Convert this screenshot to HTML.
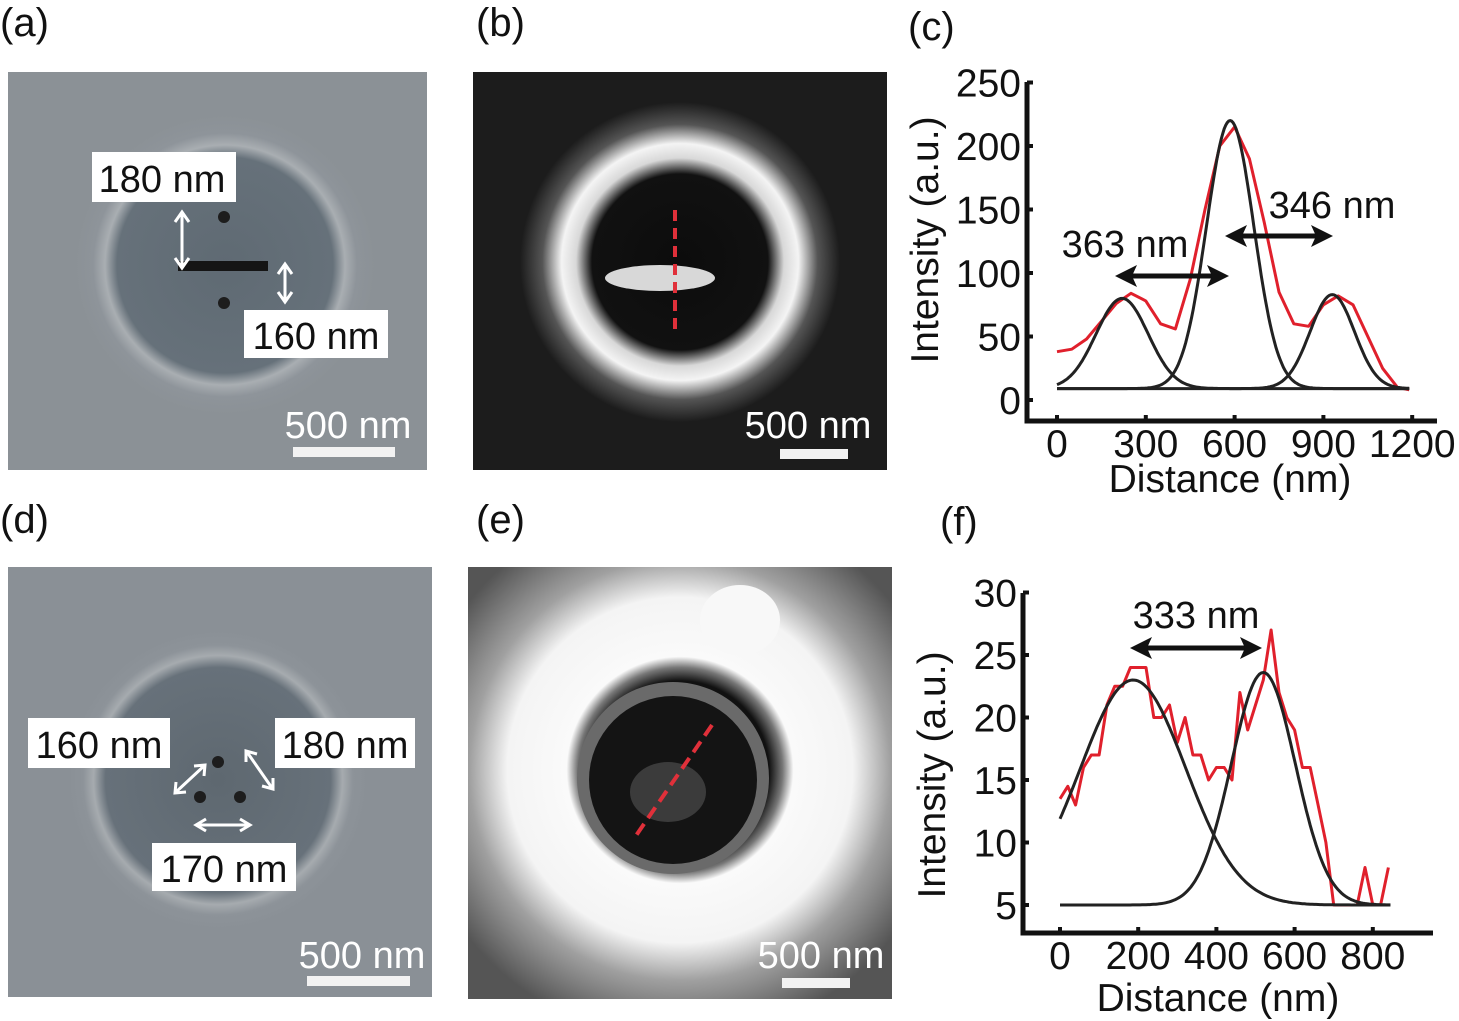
<!DOCTYPE html>
<html><head><meta charset="utf-8"><style>
html,body{margin:0;padding:0;background:#fff}
svg{display:block;font-family:"Liberation Sans",sans-serif}
</style></head><body>
<svg width="1459" height="1021" viewBox="0 0 1459 1021" xmlns="http://www.w3.org/2000/svg">
<defs>
<radialGradient id="gA" cx="225" cy="265" r="150" gradientUnits="userSpaceOnUse">
<stop offset="0" stop-color="#5f6a73"/><stop offset="0.72" stop-color="#66717a"/><stop offset="0.8" stop-color="#a9aeb2"/><stop offset="0.88" stop-color="#8e949a"/><stop offset="1" stop-color="#8b9196"/></radialGradient>
<radialGradient id="gD" cx="218" cy="780" r="150" gradientUnits="userSpaceOnUse">
<stop offset="0" stop-color="#5e6870"/><stop offset="0.75" stop-color="#67717a"/><stop offset="0.83" stop-color="#a6abaf"/><stop offset="0.9" stop-color="#8d9399"/><stop offset="1" stop-color="#8a9096"/></radialGradient>
<radialGradient id="gB" cx="680" cy="262" r="160" gradientUnits="userSpaceOnUse">
<stop offset="0" stop-color="#0c0c0c"/><stop offset="0.55" stop-color="#111"/><stop offset="0.65" stop-color="#d8d8d8"/><stop offset="0.74" stop-color="#f4f4f4"/><stop offset="0.86" stop-color="#555"/><stop offset="1" stop-color="#1c1c1c"/></radialGradient>
<radialGradient id="gE" cx="680" cy="770" r="270" gradientUnits="userSpaceOnUse">
<stop offset="0" stop-color="#111"/><stop offset="0.33" stop-color="#111"/><stop offset="0.38" stop-color="#777"/><stop offset="0.42" stop-color="#fafafa"/><stop offset="0.64" stop-color="#f4f4f4"/><stop offset="0.78" stop-color="#a0a0a0"/><stop offset="1" stop-color="#555"/></radialGradient>
</defs>

<g font-size="40" fill="#111">
<text x="0" y="36">(a)</text>
<text x="476" y="36">(b)</text>
<text x="908" y="40">(c)</text>
<text x="0" y="533">(d)</text>
<text x="476" y="533">(e)</text>
<text x="940" y="535">(f)</text>
</g>

<g>
<rect x="8" y="72" width="419" height="398" fill="url(#gA)"/>
<rect x="178" y="261" width="90" height="10" fill="#151515"/>
<circle cx="224" cy="217" r="6" fill="#1d1d1d"/><circle cx="224" cy="303" r="6" fill="#1d1d1d"/>
<path d="M182 214 V266 M175 222 L182 212 L189 222 M175 258 L182 268 L189 258" stroke="#fff" stroke-width="3" fill="none"/>
<path d="M285 266 V300 M278 274 L285 264 L292 274 M278 292 L285 302 L292 292" stroke="#fff" stroke-width="3" fill="none"/>
<rect x="92" y="152" width="144" height="50" fill="#fff"/>
<text x="162" y="192" font-size="38" text-anchor="middle" fill="#111">180 nm</text>
<rect x="244" y="310" width="144" height="48" fill="#fff"/>
<text x="316" y="349" font-size="38" text-anchor="middle" fill="#111">160 nm</text>
<text x="348" y="438" font-size="38" text-anchor="middle" fill="#fff">500 nm</text>
<rect x="293" y="447" width="102" height="10" fill="#f2f2f2"/>
</g>

<g>
<rect x="473" y="72" width="414" height="398" fill="url(#gB)"/>
<ellipse cx="660" cy="278" rx="55" ry="13" fill="#eee" opacity="0.9"/>
<line x1="675" y1="210" x2="675" y2="330" stroke="#e0303a" stroke-width="4" stroke-dasharray="11,7"/>
<text x="808" y="438" font-size="38" text-anchor="middle" fill="#fff">500 nm</text>
<rect x="780" y="449" width="68" height="10" fill="#f2f2f2"/>
</g>

<g>
<rect x="8" y="567" width="424" height="430" fill="url(#gD)"/>
<circle cx="218" cy="762" r="6" fill="#1d1d1d"/><circle cx="200" cy="797" r="6" fill="#1d1d1d"/><circle cx="240" cy="797" r="6" fill="#1d1d1d"/>
<path d="M176 792 L204 766 M176 782 L175 793 L186 792 M194 766 L205 765 L204 776" stroke="#fff" stroke-width="3" fill="none"/>
<path d="M247 752 L272 788 M246 762 L246 751 L257 754 M262 786 L273 789 L273 778" stroke="#fff" stroke-width="3" fill="none"/>
<path d="M198 825 H248 M206 819 L196 825 L206 831 M240 819 L250 825 L240 831" stroke="#fff" stroke-width="3" fill="none"/>
<rect x="28" y="718" width="142" height="50" fill="#fff"/>
<text x="99" y="758" font-size="38" text-anchor="middle" fill="#111">160 nm</text>
<rect x="275" y="718" width="140" height="50" fill="#fff"/>
<text x="345" y="758" font-size="38" text-anchor="middle" fill="#111">180 nm</text>
<rect x="152" y="843" width="144" height="48" fill="#fff"/>
<text x="224" y="882" font-size="38" text-anchor="middle" fill="#111">170 nm</text>
<text x="362" y="968" font-size="38" text-anchor="middle" fill="#fff">500 nm</text>
<rect x="307" y="976" width="103" height="10" fill="#f2f2f2"/>
</g>

<g>
<rect x="468" y="567" width="424" height="432" fill="url(#gE)"/>
<ellipse cx="740" cy="620" rx="40" ry="35" fill="#f8f8f8"/>
<circle cx="673" cy="778" r="96" fill="#6a6a6a"/>
<circle cx="673" cy="780" r="84" fill="#141414"/>
<ellipse cx="668" cy="792" rx="38" ry="30" fill="#555" opacity="0.6"/>
<line x1="712" y1="725" x2="633" y2="840" stroke="#e0303a" stroke-width="4" stroke-dasharray="13,7"/>
<text x="821" y="968" font-size="38" text-anchor="middle" fill="#fff">500 nm</text>
<rect x="782" y="978" width="68" height="10" fill="#f2f2f2"/>
</g>

<g id="chartC"></g>
<g id="chartF"></g>
</svg>
<script>
const NS='http://www.w3.org/2000/svg';
// ---- chart (c) data ----
const cXTicks=[0,300,600,900,1200];
const cYTicks=[0,50,100,150,200,250];
const cRawX=[0,50,100,150,200,250,300,350,400,450,500,550,600,650,700,750,800,850,900,950,1000,1050,1100,1150,1190];
const cRawY=[38,40,48,62,76,84,78,60,56,95,150,200,215,190,140,85,60,58,75,82,75,50,25,10,8];
const cPeakCenters=[220,585,930];
const cPeakHeights=[71,211,74];
const cPeakSigmas=[88,80,75];
const cBase=[9];
// ---- chart (f) data ----
const fXTicks=[0,200,400,600,800];
const fYTicks=[5,10,15,20,25,30];
const fRawX=[0,20,40,60,80,100,120,140,160,180,200,220,240,260,280,300,320,340,360,380,400,420,440,460,480,500,520,540,560,580,600,620,640,660,680,700,720,740,760,780,800,820,840];
const fRawY=[13.5,14.5,13,16,17,17,21,22.5,22.5,24,24,24,20,20,21,18,20,17,17,15,16,16,15,22,19,21,23,27,22,20,19,16,16,13,10,5,5,5,5,8,5,5,8];
const fPeakCenters=[187,520];
const fPeakHeights=[18,18.6];
const fPeakSigmas=[135,82];
const fBase=[5];

function el(tag,attrs,parent){const e=document.createElementNS(NS,tag);for(const k in attrs)e.setAttribute(k,attrs[k]);parent.appendChild(e);return e;}

function drawChart(g,o){
  const sx=v=>o.x0+(v-o.xmin)*o.xs, sy=v=>o.y0-(v-o.ymin)*o.ys;
  const ax=el('path',{d:`M${o.axL} ${o.axTop} V${o.axB} H${o.axR}`,stroke:'#111','stroke-width':5,fill:'none'},g);
  
  
  o.yt.forEach(v=>{
    el('line',{x1:o.axL,x2:o.axL+6,y1:sy(v),y2:sy(v),stroke:'#111','stroke-width':4},g);
    const t=el('text',{x:o.axL-6,y:sy(v)+14,'font-size':39,'text-anchor':'end',fill:'#111'},g);t.textContent=v;
    
    
  });
  o.xt.forEach(v=>{
    el('line',{x1:sx(v),x2:sx(v),y1:o.axB,y2:o.axB-6,stroke:'#111','stroke-width':4},g);
    const t=el('text',{x:sx(v),y:o.axB+36,'font-size':39,'text-anchor':'middle',fill:'#111'},g);t.textContent=v;
    
    
  });
  const xt=el('text',{x:o.xtx,y:o.xty,'font-size':39,'text-anchor':'middle',fill:'#111'},g);xt.textContent='Distance (nm)';
  
  
  const yt=el('text',{x:0,y:0,'font-size':39,'text-anchor':'middle',fill:'#111',transform:`translate(${o.ytx},${o.yty}) rotate(-90)`},g);yt.textContent='Intensity (a.u.)';
  
  
  let d=o.rx.map((x,i)=>(i?'L':'M')+sx(x).toFixed(1)+' '+sy(o.ry[i]).toFixed(1)).join(' ');
  const r=el('path',{d,stroke:'#e0202c','stroke-width':3,fill:'none','stroke-linejoin':'round'},g);
  
  
  o.pc.forEach((c,k)=>{
    let pts=[];for(let x=o.gmin;x<=o.gmax;x+=5){pts.push(sx(x).toFixed(1)+' '+sy(o.base+o.ph[k]*Math.exp(-((x-c)**2)/(2*o.ps[k]**2))).toFixed(1));}
    const p=el('path',{d:'M'+pts.join(' L'),stroke:'#222','stroke-width':3,fill:'none'},g);
    
    
  });
  o.ann.forEach(a=>{
    const y=a.y, x1=a.x1, x2=a.x2;
    const ar=el('path',{d:`M${x1+12} ${y} H${x2-12}`,stroke:'#111','stroke-width':5},g);
    
    
    el('path',{d:`M${x1} ${y} L${x1+22} ${y-11} L${x1+17} ${y} L${x1+22} ${y+11}Z M${x2} ${y} L${x2-22} ${y-11} L${x2-17} ${y} L${x2-22} ${y+11}Z`,fill:'#111'},g);
    const t=el('text',{x:a.tx,y:a.ty,'font-size':38,'text-anchor':'middle',fill:'#111'},g);t.textContent=a.label;
    
    
  });
}
drawChart(document.getElementById('chartC'),{xmin:0,ymin:0,x0:1057,y0:400,xs:0.296,ys:1.27,
 axL:1027,axTop:82,axB:421,axR:1437,xt:cXTicks,yt:cYTicks,rx:cRawX,ry:cRawY,pc:cPeakCenters,ph:cPeakHeights,ps:cPeakSigmas,base:cBase[0],gmin:0,gmax:1190,
 xtx:1230,xty:492,ytx:938,yty:240,
 ann:[{x1:1115,x2:1229,y:276,tx:1125,ty:257,label:'363 nm'},{x1:1225,x2:1333,y:236,tx:1332,ty:218,label:'346 nm'}]});
drawChart(document.getElementById('chartF'),{xmin:0,ymin:5,x0:1060,y0:905,xs:0.391,ys:12.5,
 axL:1023,axTop:593,axB:933,axR:1433,xt:fXTicks,yt:fYTicks,rx:fRawX,ry:fRawY,pc:fPeakCenters,ph:fPeakHeights,ps:fPeakSigmas,base:fBase[0],gmin:0,gmax:845,
 xtx:1218,xty:1011,ytx:945,yty:775,
 ann:[{x1:1130,x2:1262,y:648,tx:1196,ty:628,label:'333 nm'}]});
</script>
</body></html>
